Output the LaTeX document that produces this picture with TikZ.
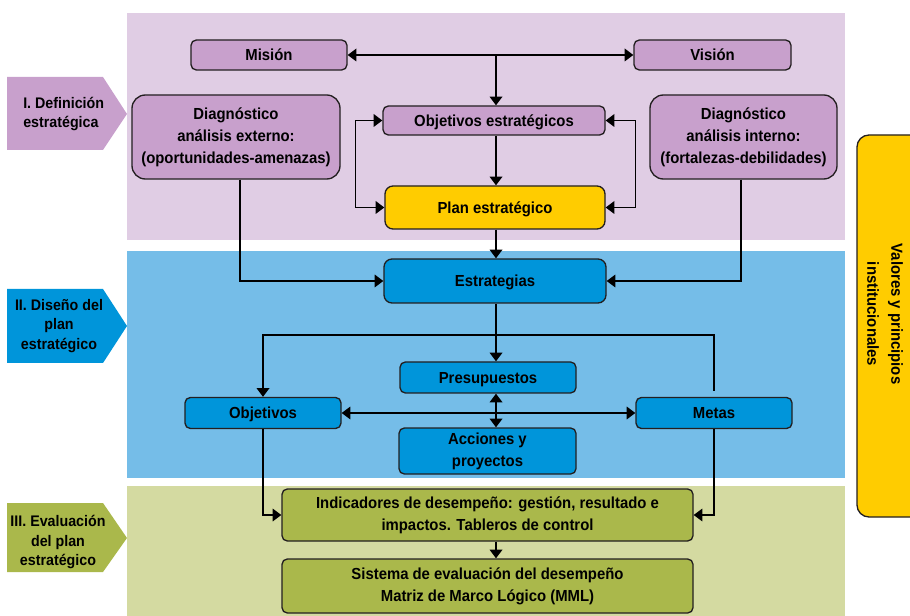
\documentclass[tikz,border=0pt]{standalone}
\usepackage{fontspec}
\setmainfont{Liberation Sans}[FakeStretch=0.93]
\usetikzlibrary{arrows.meta}
\definecolor{bandA}{HTML}{E0CDE4}
\definecolor{bandB}{HTML}{75BDE8}
\definecolor{bandC}{HTML}{D4DAA1}
\definecolor{nodeA}{HTML}{C8A0CC}
\definecolor{nodeB}{HTML}{0095DA}
\definecolor{nodeC}{HTML}{AAB84B}
\definecolor{yel}{HTML}{FFCC00}
\definecolor{edge}{HTML}{231F20}
\tikzset{
  box/.style={draw=edge, line width=1pt, rounded corners=4pt, inner sep=0pt, align=center,
    font=\fontsize{12}{16.5}\selectfont\bfseries, text=black},
  one/.style={text height=10.6pt, text depth=2pt},
  lbl/.style={inner sep=0pt, font=\fontsize{11.5}{14.5}\selectfont\bfseries, text=black},
  arr/.style={draw=black, line width=1pt, -{Triangle[length=6.5pt,width=9.5pt]}},
  darr/.style={draw=black, line width=1pt, {Triangle[length=6.5pt,width=9.5pt]}-{Triangle[length=6.5pt,width=9.5pt]}},
  ln/.style={draw=black, line width=1pt}
}
\begin{document}
\begin{tikzpicture}[x=0.75pt,y=-0.75pt]
\useasboundingbox (0,0) rectangle (910,616);
% bands
\fill[bandA] (127,13) rectangle (845,240);
\fill[bandB] (127,251) rectangle (845,478);
\fill[bandC] (127,486) rectangle (845,616);
% left arrows
\fill[nodeA] (7,77) -- (103,77) -- (127,114) -- (103,150) -- (7,150) -- cycle;
\fill[nodeB] (7,289) -- (103,289) -- (127,326) -- (103,363) -- (7,363) -- cycle;
\fill[nodeC] (7,503) -- (103,503) -- (127,538) -- (103,572) -- (7,572) -- cycle;
\node[lbl, anchor=west, align=left] (secI) at (23,114) {I. Definición\\estratégica};
\node[lbl, align=center] (secII) at (59,326) {II. Diseño del\\plan\\estratégico};
\node[lbl, align=center] (secIII) at (58,542) {III. Evaluación\\del plan\\estratégico};
% right box
\draw[draw=edge, line width=1pt, fill=yel, rounded corners=9pt] (857,135) rectangle (930,517);
\node[box, draw=none, rotate=-90, font=\fontsize{12}{18}\selectfont\bfseries] (val) at (885,314) {Valores y principios\\institucionales};
% nodes section I
\node[box, one, fill=nodeA, minimum width=117pt, minimum height=22.5pt] (mision) at (269,55) {Misión};
\node[box, one, fill=nodeA, minimum width=117.75pt, minimum height=22.5pt] (vision) at (712.5,55) {Visión};
\node[box, one, fill=nodeA, minimum width=166.5pt, minimum height=21.75pt] (objest) at (494,120.5) {Objetivos estratégicos};
\node[box, one, fill=yel, rounded corners=6pt, minimum width=165pt, minimum height=32.25pt] (plan) at (495,207.5) {Plan estratégico};
\node[box, fill=nodeA, rounded corners=10pt, minimum width=156pt, minimum height=63pt] (dext) at (236,137) {Diagnóstico\\análisis externo:\\(oportunidades-amenazas)};
\node[box, fill=nodeA, rounded corners=10pt, minimum width=140.25pt, minimum height=63pt] (dint) at (743.5,137) {Diagnóstico\\análisis interno:\\(fortalezas-debilidades)};
% section II
\node[box, one, fill=nodeB, rounded corners=6pt, minimum width=166.5pt, minimum height=33pt] (estr) at (495,281) {Estrategias};
\node[box, one, fill=nodeB, minimum width=132pt, minimum height=23.25pt] (presu) at (488,377.5) {Presupuestos};
\node[box, one, fill=nodeB, minimum width=117pt, minimum height=23.25pt] (obj) at (263,413) {Objetivos};
\node[box, one, fill=nodeB, minimum width=117pt, minimum height=23.25pt] (metas) at (714,413) {Metas};
\node[box, fill=nodeB, minimum width=132.75pt, minimum height=34.5pt] (acc) at (487.5,451) {Acciones y\\proyectos};
% section III
\node[box, fill=nodeC, minimum width=308.25pt, minimum height=39pt] (ind) at (487.5,515) {Indicadores de desempeño: gestión, resultado e\\impactos. Tableros de control};
\node[box, fill=nodeC, minimum width=308.25pt, minimum height=40.5pt] (sis) at (487.5,586) {Sistema de evaluación del desempeño\\Matriz de Marco Lógico (MML)};
% connectors
\coordinate (cx) at (496,0);
\coordinate (hy) at (0,335);
\draw[darr] (mision.east) -- (vision.west);
\draw[arr] (mision.east -| cx) -- (objest.north -| cx);
\draw[arr] (objest.south -| cx) -- (plan.north -| cx);
\draw[darr] (objest.west) -- ++(-27,0) |- (plan.west);
\draw[darr] (objest.east) -- ++(30,0) |- (plan.east);
\draw[arr] (plan.south -| cx) -- (estr.north -| cx);
\draw[arr] ([xshift=3pt]dext.south) |- (estr.west);
\draw[arr] ([xshift=-2pt]dint.south) |- (estr.east);
\draw[arr] (estr.south -| cx) -- (presu.north -| cx);
\draw[arr] ([yshift=4.5pt]metas.north) -- (metas.north |- hy) -- (obj.north |- hy) -- (obj.north);
\draw[darr] (obj.east) -- (metas.west);
\draw[darr] (presu.south -| cx) -- (acc.north -| cx);
\draw[arr] (obj.south) |- (ind.west);
\draw[arr] (metas.south) |- (ind.east);
\draw[arr] (ind.south -| cx) -- (sis.north -| cx);
\end{tikzpicture}
\end{document}
